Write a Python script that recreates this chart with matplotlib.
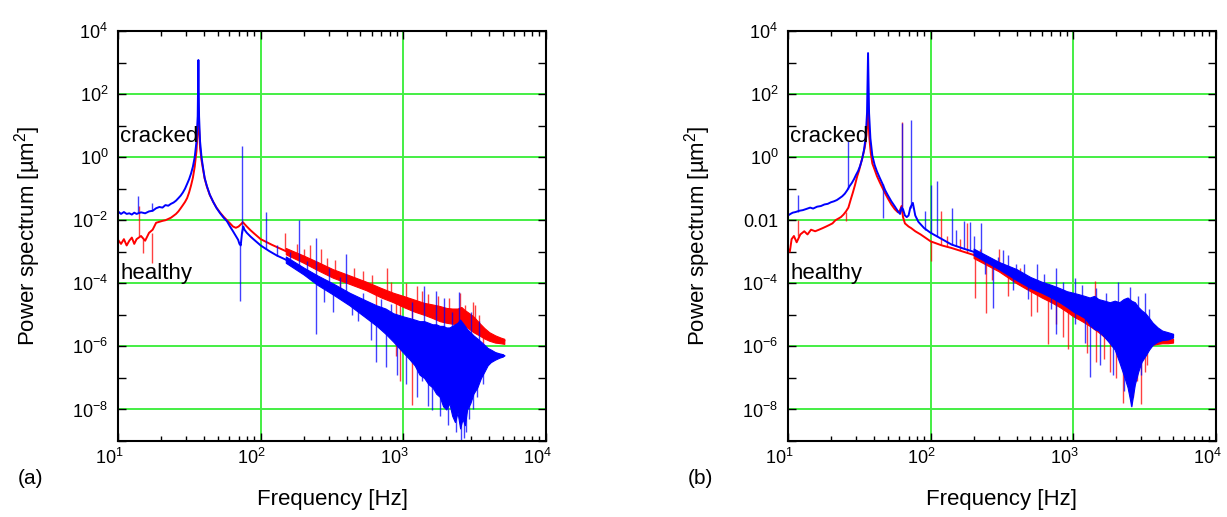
import numpy as np
import matplotlib
matplotlib.use("Agg")
import matplotlib.pyplot as plt
from matplotlib.ticker import LogLocator, NullFormatter, NullLocator
from matplotlib.transforms import ScaledTranslation

plt.rcParams['font.family'] = ['Liberation Sans', 'DejaVu Sans']
plt.rcParams['mathtext.fontset'] = 'custom'
plt.rcParams['mathtext.rm'] = 'Liberation Sans'
plt.rcParams['mathtext.it'] = 'Liberation Sans:italic'
plt.rcParams['mathtext.default'] = 'regular'

RED = '#ff0000'
BLUE = '#0000ff'
GRID = '#44ee44'

# all power values below are log10 of the power spectrum [um^2]

# ---- panel (a) ----
a_cracked_f = [10, 10.5, 11, 11.5, 12, 12.5, 13, 13.5, 14.5, 15.5, 16.5, 17.5, 18.5, 19.5, 20.5,
               21.5, 22.5, 23.5, 24.5, 25.5, 26.5, 27.5, 28.5, 29.5, 30.5, 31.5, 32.5, 33.5, 34.5,
               35.5, 36.2, 36.6, 37.0, 37.6, 38.5, 39.5, 40.5, 42, 44, 46.5, 49, 52, 55, 58, 61, 64,
               67, 69.5, 71, 72.5, 74, 75.5, 77, 80, 85, 90, 100, 115, 130, 150, 175, 200, 250, 300,
               350, 420, 550, 700, 1000, 1500, 2000, 2500, 3000, 3500, 4000, 4500, 5100]
a_cracked_logp = [-1.72, -1.8, -1.74, -1.8, -1.78, -1.82, -1.76, -1.8, -1.75, -1.78, -1.72, -1.7,
                  -1.62, -1.58, -1.6, -1.52, -1.54, -1.48, -1.44, -1.38, -1.3, -1.22, -1.12, -1.0,
                  -0.85, -0.7, -0.52, -0.3, 0.0, 0.5, 1.3, 3.08, 1.3, 0.5, 0.0, -0.35, -0.66, -0.92,
                  -1.19, -1.42, -1.61, -1.78, -1.92, -2.03, -2.2, -2.35, -2.5, -2.62, -2.75, -2.8,
                  -2.4, -2.2, -2.3, -2.4, -2.52, -2.62, -2.8, -2.98, -3.12, -3.25, -3.45, -3.6,
                  -3.88, -4.1, -4.28, -4.5, -4.82, -5.05, -5.45, -5.8, -6.0, -6.1, -6.15, -6.2,
                  -6.22, -6.26, -6.3]
a_cracked_band_f = [150, 200, 250, 320, 420, 550, 650, 750, 850, 1000, 1100, 1200, 1300, 1400,
                    1500, 1600, 1700, 1800, 1900, 2000, 2100, 2200, 2300, 2400, 2500, 2600, 2700,
                    2800, 2950, 3100, 3300, 3500, 3700, 3900, 4100, 4400, 4700, 5000]
a_cracked_band_hi = [-3.15, -3.5, -3.75, -4.0, -4.3, -4.55, -4.7, -4.8, -4.95, -5.05, -5.1, -5.15,
                     -5.2, -5.2, -5.25, -5.3, -5.3, -5.35, -5.35, -5.4, -5.4, -5.35, -5.3, -5.25,
                     -5.15, -5.25, -5.35, -5.45, -5.55, -5.65, -5.75, -5.85, -5.95, -6.05, -6.1,
                     -6.18, -6.22, -6.25]
a_cracked_band_lo = [-3.35, -3.72, -4.05, -4.35, -4.7, -5.1, -5.35, -5.6, -5.85, -6.2, -6.4, -6.6,
                     -6.9, -7.0, -7.2, -7.3, -7.5, -7.6, -7.9, -8.0, -7.8, -8.2, -8.4, -8.1, -8.6,
                     -8.3, -8.5, -8.0, -7.8, -7.5, -7.3, -7.0, -6.8, -6.6, -6.5, -6.42, -6.36, -6.32]
a_cracked_spike_f = [13.9, 17.4, 71.8, 74.0, 109, 130, 160, 185, 210, 243, 243, 280, 300, 322, 360,
                     397, 440, 480, 520, 590, 647, 700, 756, 820, 900, 1050, 1150, 1250, 1350, 1400,
                     1500, 1600, 1700, 1800, 1940, 2050, 2200, 2350, 2470, 2550, 2650, 2750, 2900,
                     3000, 3100, 3300, 3400, 3600]
a_cracked_spike_base = [-1.78, -1.7, -2.78, -2.4, -2.9, -3.12, -3.3, -3.5, -3.65, -3.85, -3.85,
                        -4.0, -4.1, -4.15, -4.3, -4.4, -4.55, -4.7, -4.75, -4.9, -5.0, -5.05, -5.1,
                        -5.2, -5.3, -5.45, -5.5, -5.6, -5.65, -5.6, -5.75, -5.8, -5.85, -5.9, -5.95,
                        -6.0, -6.0, -6.05, -6.0, -6.1, -6.1, -6.1, -6.1, -6.15, -6.15, -6.2, -6.2,
                        -6.2]
a_cracked_spike_tip = [-1.24, -1.45, -4.57, 0.34, -1.74, -2.8, -3.0, -2.0, -3.3, -2.56, -5.6, -4.6,
                       -3.5, -4.9, -3.8, -3.08, -5.0, -5.2, -4.3, -5.8, -6.5, -4.5, -6.66, -4.65,
                       -6.9, -7.2, -4.6, -7.6, -7.1, -4.08, -7.9, -8.03, -4.24, -8.2, -4.45, -8.5,
                       -4.9, -8.7, -4.26, -9.0, -8.9, -8.7, -8.3, -4.9, -8.0, -7.6, -5.2, -7.2]

a_healthy_f = [10, 10.5, 11, 11.5, 12, 12.5, 13, 13.5, 14.5, 15.5, 16.5, 17.5, 18.5, 19.5, 20.5,
               21.5, 22.5, 23.5, 24.5, 25.5, 26.5, 27.5, 28.5, 29.5, 30.5, 31.5, 32.5, 33.5, 34.5,
               35.5, 36.2, 36.6, 37.0, 37.6, 38.5, 39.5, 40.5, 42, 44, 46.5, 49, 52, 55, 58, 61, 64,
               67, 70, 73, 75, 77, 80, 85, 90, 100, 120, 150, 190, 250, 320, 420, 550, 700, 850,
               1000, 1300, 1600, 2000, 2500, 3000, 3500, 4000, 4500, 5100]
a_healthy_logp = [-2.62, -2.75, -2.6, -2.8, -2.65, -2.55, -2.75, -2.6, -2.5, -2.65, -2.4, -2.3,
                  -2.08, -2.05, -2.02, -2.0, -1.96, -1.92, -1.86, -1.8, -1.72, -1.62, -1.52,
                  -1.42, -1.3, -1.12, -0.9, -0.65, -0.3, 0.2, 0.9, 1.45, 0.9, 0.3, -0.1, -0.4,
                  -0.68, -0.94, -1.2, -1.42, -1.6, -1.76, -1.89, -2.0, -2.1, -2.2, -2.24, -2.2,
                  -2.12, -2.06, -2.12, -2.2, -2.32, -2.42, -2.6, -2.78, -2.98, -3.22, -3.45,
                  -3.68, -3.9, -4.1, -4.3, -4.45, -4.58, -4.75, -4.88, -4.98, -5.05, -5.3, -5.5,
                  -5.65, -5.75, -5.82]
a_healthy_band_f = [150, 200, 250, 320, 420, 550, 700, 850, 1000, 1200, 1400, 1600, 1800, 2000,
                    2200, 2400, 2550, 2700, 2900, 3100, 3400, 3700, 4000, 4400, 4800, 5100]
a_healthy_band_hi = [-2.88, -3.12, -3.32, -3.55, -3.75, -3.95, -4.15, -4.3, -4.4, -4.52, -4.62,
                     -4.67, -4.72, -4.78, -4.8, -4.8, -4.75, -4.85, -4.95, -5.05, -5.25, -5.42,
                     -5.55, -5.65, -5.72, -5.76]
a_healthy_band_lo = [-3.08, -3.35, -3.58, -3.82, -4.02, -4.22, -4.45, -4.6, -4.75, -4.9, -5.0,
                     -5.1, -5.2, -5.25, -5.28, -5.3, -5.3, -5.35, -5.45, -5.55, -5.65, -5.75,
                     -5.82, -5.88, -5.9, -5.92]
a_healthy_spike_f = [14.0, 15.0, 17.2, 148, 180, 200, 220, 265, 290, 330, 360, 450, 520, 600, 640,
                     770, 820, 888, 955, 1050, 1150, 1250, 1350, 1500, 1750, 2100, 2500, 2700,
                     3060, 3190, 3400, 3600]
a_healthy_spike_base = [-2.5, -2.6, -2.4, -2.98, -3.15, -3.3, -3.35, -3.5, -3.6, -3.7, -3.75, -3.95,
                        -4.05, -4.2, -4.2, -4.35, -4.4, -4.5, -4.55, -4.55, -4.65, -4.65, -4.75,
                        -4.8, -4.85, -4.9, -5.05, -5.1, -5.3, -5.35, -5.45, -5.5]
a_healthy_spike_tip = [-1.56, -3.05, -3.35, -2.4, -2.75, -2.9, -2.77, -2.9, -3.2, -3.25, -4.2,
                       -3.5, -3.6, -3.75, -4.7, -3.5, -3.95, -6.3, -7.1, -4.0, -7.85, -4.1, -4.25,
                       -4.35, -4.4, -4.45, -4.3, -4.7, -4.6, -4.68, -5.0, -6.0]

# ---- panel (b) ----
b_cracked_f = [10, 10.4, 10.8, 11.3, 12, 12.7, 13.5, 14.3, 15, 16, 17, 18, 19, 20, 21, 22, 23, 24,
               25, 26, 27, 28, 29, 30, 31, 32, 33, 34, 35, 35.8, 36.4, 37.0, 37.8, 39, 40.5, 42, 44,
               46, 48, 50, 53, 56, 59, 61, 62.5, 64, 66, 68, 70, 72, 75, 78, 82, 90, 100, 120, 140,
               170, 200, 250, 300, 400, 500, 600, 800, 1000, 1300, 1600, 2000, 2500, 3000, 3600,
               4200, 5000]
b_cracked_logp = [-1.85, -1.8, -1.76, -1.74, -1.7, -1.68, -1.64, -1.6, -1.63, -1.57, -1.55, -1.5,
                  -1.48, -1.43, -1.4, -1.36, -1.3, -1.24, -1.16, -1.05, -0.92, -0.82, -0.7, -0.56,
                  -0.44, -0.28, -0.08, 0.2, 0.6, 1.4, 3.3, 1.4, 0.6, 0.05, -0.25, -0.45, -0.66,
                  -0.85, -1.05, -1.2, -1.4, -1.56, -1.72, -1.8, -1.6, -1.65, -1.85, -1.9, -1.85,
                  -1.6, -1.45, -1.85, -2.05, -2.25, -2.4, -2.6, -2.77, -2.9, -3.0, -3.2, -3.42,
                  -3.7, -3.95, -4.1, -4.35, -4.56, -4.75, -4.9, -5.05, -5.2, -5.35, -5.5, -5.6,
                  -5.66]
b_cracked_band_f = [200, 300, 400, 500, 600, 700, 800, 900, 1000, 1100, 1200, 1300, 1400, 1500,
                    1650, 1800, 1950, 2100, 2250, 2400, 2550, 2700, 2850, 3000, 3200, 3400, 3600,
                    3900, 4200, 4600, 5000]
b_cracked_band_hi = [-2.9, -3.32, -3.55, -3.8, -3.95, -4.05, -4.15, -4.25, -4.3, -4.35, -4.4,
                     -4.45, -4.4, -4.5, -4.55, -4.6, -4.55, -4.6, -4.5, -4.45, -4.55, -4.6, -4.75,
                     -4.85, -4.95, -5.1, -5.25, -5.4, -5.5, -5.55, -5.6]
b_cracked_band_lo = [-3.1, -3.55, -3.9, -4.15, -4.3, -4.45, -4.6, -4.75, -4.9, -5.0, -5.1, -5.3,
                     -5.45, -5.5, -5.7, -5.9, -6.1, -6.5, -6.9, -7.3, -7.9, -7.2, -6.8, -6.5, -6.3,
                     -6.1, -5.95, -5.85, -5.8, -5.78, -5.72]
b_cracked_spike_f = [11.75, 26.3, 46.3, 63.0, 73.3, 91, 100, 110, 140, 150, 172, 188, 200, 227,
                     240, 273, 296, 321, 350, 380, 398, 450, 480, 560, 620, 700, 760, 760, 850,
                     1022, 1022, 1150, 1200, 1300, 1450, 1550, 1700, 1900, 2055, 2250, 2400, 2480,
                     2530, 2700, 2850, 3000, 3160, 3400]
b_cracked_spike_base = [-1.74, -1.0, -0.85, -1.7, -1.6, -2.3, -2.4, -2.5, -2.77, -2.82, -2.9,
                        -2.95, -3.0, -3.1, -3.15, -3.35, -3.42, -3.5, -3.6, -3.65, -3.7, -3.85,
                        -3.9, -4.05, -4.1, -4.25, -4.3, -4.3, -4.4, -4.56, -4.56, -4.65, -4.7,
                        -4.75, -4.85, -4.9, -4.95, -5.0, -5.05, -5.1, -5.15, -5.2, -5.2, -5.25,
                        -5.3, -5.35, -5.35, -5.45]
b_cracked_spike_tip = [-1.19, 0.5, -1.93, 1.08, 1.19, -1.72, -0.87, -0.77, -1.61, -2.3, -2.03,
                       -2.05, -2.5, -2.1, -3.7, -4.77, -3.18, -2.95, -3.1, -4.2, -3.39, -3.4,
                       -4.5, -3.4, -3.7, -4.8, -3.52, -5.6, -3.95, -3.82, -5.3, -4.05, -5.9,
                       -6.98, -4.15, -6.6, -4.3, -6.9, -3.97, -7.4, -7.0, -4.13, -7.9, -7.1,
                       -4.4, -6.9, -4.3, -4.8]

b_healthy_f = [10, 10.3, 10.6, 11, 11.5, 12.2, 13, 13.7, 14.5, 15.5, 16.5, 17.5, 18.5, 19.5, 20.5,
               21.5, 22.5, 23.5, 24.5, 25.5, 26.5, 27.5, 28.5, 29.5, 30.5, 31.5, 32.5, 33.5, 34.5,
               35.5, 36.4, 37.2, 38, 39, 40.5, 42, 44, 46, 48, 50, 53, 56, 59, 61, 62.5, 64, 66, 70,
               73, 78, 85, 100, 120, 140, 170, 200, 250, 300, 400, 500, 650, 800, 1000, 1300, 1800,
               2500, 3000, 3600, 4200, 5000]
b_healthy_logp = [-2.9, -3.0, -2.6, -2.5, -2.7, -2.45, -2.35, -2.45, -2.3, -2.35, -2.3, -2.25,
                  -2.2, -2.15, -2.1, -2.0, -1.95, -1.9, -1.82, -1.72, -1.6, -1.35, -1.12, -0.88,
                  -0.62, -0.42, -0.18, 0.05, 0.3, 0.7, 1.45, 0.6, 0.15, -0.2, -0.4, -0.6, -0.8,
                  -0.98, -1.15, -1.3, -1.5, -1.65, -1.75, -1.68, -1.55, -1.9, -2.1, -2.2, -2.25,
                  -2.35, -2.45, -2.67, -2.8, -2.88, -3.0, -3.1, -3.3, -3.5, -3.85, -4.1, -4.35,
                  -4.6, -4.82, -5.0, -5.3, -5.5, -5.65, -5.77, -5.8, -5.82]
b_healthy_band_f = [200, 300, 400, 500, 600, 700, 800, 900, 1000, 1100, 1200, 1300, 1400, 1500,
                    1650, 1800, 1950, 2100, 2250, 2400, 2550, 2700, 2850, 3000, 3200, 3400, 3600,
                    3900, 4200, 4600, 5000]
b_healthy_band_hi = [-3.02, -3.42, -3.7, -3.95, -4.1, -4.2, -4.35, -4.45, -4.55, -4.6, -4.7,
                     -4.75, -4.8, -4.85, -4.95, -5.05, -5.1, -5.15, -5.2, -5.25, -5.3, -5.35,
                     -5.4, -5.45, -5.55, -5.6, -5.65, -5.7, -5.72, -5.75, -5.76]
b_healthy_band_lo = [-3.2, -3.62, -4.0, -4.25, -4.45, -4.6, -4.75, -4.9, -5.05, -5.15, -5.25,
                     -5.35, -5.45, -5.55, -5.7, -5.85, -6.0, -6.2, -6.4, -6.6, -6.8, -6.5, -6.3,
                     -6.2, -6.1, -6.0, -5.95, -5.92, -5.9, -5.9, -5.88]
b_healthy_spike_f = [11.8, 25.7, 63.0, 100, 118, 130, 160, 181, 203, 220, 246, 270, 300, 350, 420,
                     508, 560, 665, 750, 850, 917, 1100, 1250, 1410, 1450, 1650, 1800, 2000, 2230,
                     2400, 2550, 2600, 2800, 3000, 3200, 3300]
b_healthy_spike_base = [-2.5, -1.75, -1.6, -2.67, -2.8, -2.85, -2.95, -3.05, -3.1, -3.2, -3.28,
                        -3.4, -3.5, -3.7, -3.9, -4.1, -4.2, -4.4, -4.55, -4.65, -4.75, -4.9,
                        -5.0, -5.1, -5.1, -5.25, -5.3, -5.4, -5.45, -5.5, -5.5, -5.5, -5.6,
                        -5.65, -5.7, -5.7]
b_healthy_spike_tip = [-2.0, -2.03, 1.13, -3.3, -1.7, -2.5, -2.6, -2.09, -4.46, -2.9, -4.94, -3.9,
                       -2.9, -4.4, -3.5, -5.03, -4.9, -5.93, -5.3, -5.7, -6.09, -4.45, -6.2,
                       -3.92, -6.5, -6.4, -6.8, -7.0, -7.78, -7.2, -4.8, -7.6, -7.1, -7.83,
                       -6.8, -6.6]

panels = {
    'a': dict(
        cracked=(a_cracked_f, a_cracked_logp, a_cracked_band_f, a_cracked_band_lo, a_cracked_band_hi,
                 a_cracked_spike_f, a_cracked_spike_base, a_cracked_spike_tip),
        healthy=(a_healthy_f, a_healthy_logp, a_healthy_band_f, a_healthy_band_lo, a_healthy_band_hi,
                 a_healthy_spike_f, a_healthy_spike_base, a_healthy_spike_tip)),
    'b': dict(
        cracked=(b_cracked_f, b_cracked_logp, b_cracked_band_f, b_cracked_band_lo, b_cracked_band_hi,
                 b_cracked_spike_f, b_cracked_spike_base, b_cracked_spike_tip),
        healthy=(b_healthy_f, b_healthy_logp, b_healthy_band_f, b_healthy_band_lo, b_healthy_band_hi,
                 b_healthy_spike_f, b_healthy_spike_base, b_healthy_spike_tip)),
}

x_ticks = [10, 100, 1000, 10000]
x_labels = ['$10^{1}$', '$10^{2}$', '$10^{3}$', '$10^{4}$']
y_exps = list(range(-9, 5))
grid_y = [1e-8, 1e-6, 1e-4, 1e-2, 1e0, 1e2]
grid_x = [100, 1000]


def pw(v):
    return 10.0 ** np.asarray(v, dtype=float)


def draw_series(ax, data, color, z):
    f, logp, bf, blo, bhi, sf, sbase, stip = data
    ax.fill_between(bf, pw(blo), pw(bhi), color=color, lw=0.8, zorder=z)
    ax.plot(f, pw(logp), color=color, lw=1.4, zorder=z + 0.1)
    ax.vlines(sf, pw(sbase), pw(stip), color=color, lw=1.0, alpha=0.75, zorder=z + 0.2)


def setup_axes(fig, ax, name):
    ax.set_xscale('log')
    ax.set_yscale('log')
    ax.set_xlim(10, 1e4)
    ax.set_ylim(1e-9, 1e4)

    for gy in grid_y:
        ax.axhline(gy, color=GRID, lw=1.4, zorder=1)
    for gx in grid_x:
        ax.axvline(gx, color=GRID, lw=1.4, zorder=1)

    ax.set_xticks(x_ticks)
    ax.set_xticklabels(x_labels)
    ax.xaxis.set_minor_locator(LogLocator(base=10, subs=range(2, 10), numticks=20))
    ax.xaxis.set_minor_formatter(NullFormatter())

    labels = []
    for k in y_exps:
        if k % 2:
            labels.append('')
        elif name == 'b' and k == -2:
            labels.append('0.01')
        else:
            labels.append('$10^{%d}$' % k)
    ax.set_yticks([10.0 ** k for k in y_exps])
    ax.set_yticklabels(labels)
    ax.yaxis.set_minor_locator(NullLocator())

    ax.tick_params(which='both', direction='in', top=True, right=True, labelsize=13)
    ax.tick_params(which='major', length=6, width=1.0)
    ax.tick_params(which='minor', length=3.5, width=1.0)
    ax.tick_params(axis='x', pad=5)
    ax.tick_params(axis='y', pad=7)
    for s in ax.spines.values():
        s.set_linewidth(1.5)
        s.set_zorder(10)

    # the "10" sits left of the tick, exponent just right of it
    shift = ScaledTranslation(-9 / 100, 0, fig.dpi_scale_trans)
    for lab in ax.get_xticklabels():
        lab.set_transform(lab.get_transform() + shift)


fig = plt.figure(figsize=(12.27, 5.17), dpi=100)
W, H = 1227.0, 517.0
axes_left = {'a': 118, 'b': 788}

for name in ['a', 'b']:
    x0 = axes_left[name]
    ax = fig.add_axes([x0 / W, 1 - 441 / H, 428 / W, 410 / H])
    setup_axes(fig, ax, name)
    draw_series(ax, panels[name]['healthy'], RED, 2)
    draw_series(ax, panels[name]['cracked'], BLUE, 3)
    ax.text(10.25, 10 ** 0.67, 'cracked', fontsize=16, ha='left', va='center', zorder=6)
    ax.text(10.35, 10 ** -3.7, 'healthy', fontsize=16, ha='left', va='center', zorder=6)

    fig.text((x0 + 214) / W, 1 - 500 / H, 'Frequency [Hz]', fontsize=16, ha='center', va='center')
    fig.text((x0 - 90) / W, 1 - 236 / H, 'Power spectrum [µm$^2$]', fontsize=16,
             rotation=90, ha='center', va='center')
    fig.text((x0 - 88) / W, 1 - 478 / H, '(%s)' % name, fontsize=15, ha='center', va='center')

fig.savefig('out.png', dpi=100)
